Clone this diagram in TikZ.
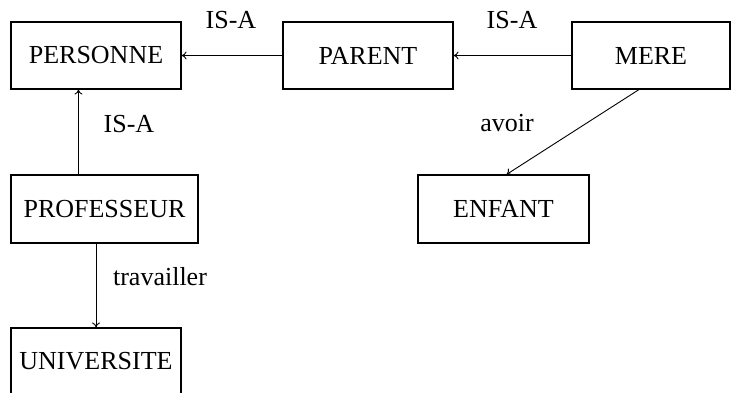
\documentclass[tikz,border=0pt]{standalone}
\usepackage{fontspec}
\setmainfont{Liberation Serif}
\usetikzlibrary{arrows.meta}
\tikzstyle{boite} = [draw,rectangle,line width=1.1pt,minimum height=67pt,inner sep=0pt,font=\fontsize{26}{30}\selectfont]
\tikzstyle{fleche} = [-{To[length=5pt,width=8pt]},line width=0.9pt]
\tikzstyle{etiq} = [font=\fontsize{26}{30}\selectfont]
\begin{document}
\begin{tikzpicture}[x=1pt,y=-1pt]

	\useasboundingbox (0,0) rectangle (731,392);

	%% Entites
	\node [boite,minimum width=170pt] (Pers) at (96,55.5) {PERSONNE};
	\node [boite,minimum width=170pt] (Parent) at (368,55.5) {PARENT};
	\node [boite,minimum width=158pt] (Mere) at (651,55.5) {MERE};
	\node [boite,minimum width=187pt,minimum height=68pt] (Prof) at (104.5,209) {PROFESSEUR};
	\node [boite,minimum width=170pt] (Univ) at (96,361.5) {UNIVERSITE};
	\node [boite,minimum width=171pt,minimum height=68pt] (Enfant) at (503.5,209) {ENFANT};

	%% Etiquettes
	\node [etiq] (isa1) at (231,20) {IS-A};
	\node [etiq] (isa2) at (512,20) {IS-A};
	\node [etiq] (isa3) at (129,124) {IS-A};
	\node [etiq] (trav) at (160,277) {travailler};
	\node [etiq] (avoir) at (507,123) {avoir};

	%% Fleches
	\draw [fleche] (Parent.west) -- (Pers.east);
	\draw [fleche] (Mere.west) -- (Parent.east);
	\draw [fleche] ([xshift=68pt]Prof.north west) -- ([xshift=68pt]Pers.south west);
	\draw [fleche] (Univ.north |- Prof.south) -- (Univ.north);
	\draw [fleche] ([xshift=-12pt]Mere.south) -- ([xshift=3pt]Enfant.north);

\end{tikzpicture}
\end{document}
